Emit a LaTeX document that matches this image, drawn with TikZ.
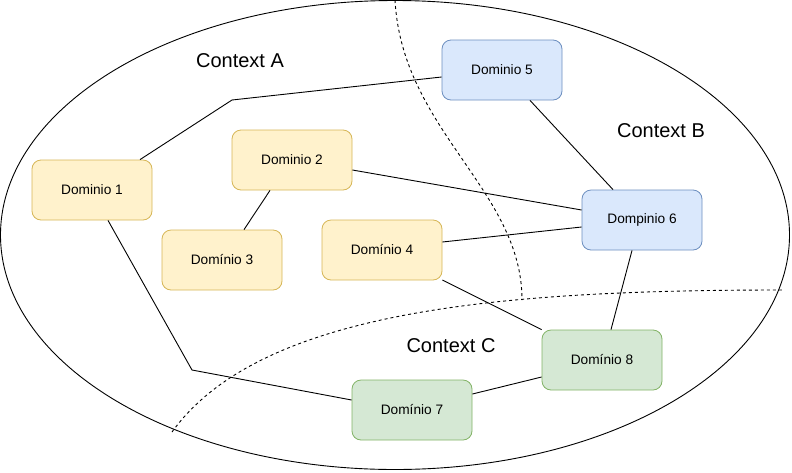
\documentclass[tikz,border=0pt]{standalone}
\usepackage{fontspec}
\setmainfont{Liberation Sans}
\usepackage{xcolor}
\usetikzlibrary{arrows.meta}
\definecolor{yellowfill}{RGB}{255,242,204}
\definecolor{yellowline}{RGB}{214,182,86}
\definecolor{bluefill}{RGB}{218,232,252}
\definecolor{blueline}{RGB}{108,142,191}
\definecolor{greenfill}{RGB}{213,232,212}
\definecolor{greenline}{RGB}{130,179,102}

\begin{document}
\begin{tikzpicture}[x=1pt,y=-1pt]
    \tikzstyle{dombox}=[rectangle,rounded corners=9pt,minimum width=120pt,minimum height=60pt,line width=0.8pt,font=\fontsize{13.7}{16}\selectfont,inner sep=0pt]
    \tikzstyle{ctxA}=[dombox,fill=yellowfill,draw=yellowline]
    \tikzstyle{ctxB}=[dombox,fill=bluefill,draw=blueline]
    \tikzstyle{ctxC}=[dombox,fill=greenfill,draw=greenline]
    \tikzstyle{link}=[-,line width=0.9pt]
    \tikzstyle{bounds}=[-,line width=0.9pt,dash pattern=on 3pt off 3pt]
    \tikzstyle{ctxlabel}=[font=\fontsize{20}{24}\selectfont]
    \useasboundingbox (0,0) rectangle (792,472);
    % Draw the outer ellipse
    \draw[line width=0.9pt] (395,235) ellipse [x radius=394.5, y radius=234.5];
    % Draw the context bounds
    \draw[bounds] (395,0) .. controls (402,130) and (522,190) .. (522,300);
    \draw[bounds] (172,432) .. controls (260,310) and (500,290) .. (782,290);
    % Draw the domains
    \node[ctxA] (1) at (92,190) {Dominio 1};
    \node[ctxA] (2) at (292,160) {Dominio 2};
    \node[ctxA] (3) at (222,260) {Domínio 3};
    \node[ctxA] (4) at (382,250) {Domínio 4};
    \node[ctxB] (5) at (502,70) {Dominio 5};
    \node[ctxB] (6) at (642,220) {Dompinio 6};
    \node[ctxC] (7) at (412,410) {Domínio 7};
    \node[ctxC] (8) at (602,360) {Domínio 8};
    \coordinate (b15) at (232,100);
    \coordinate (b17) at (192,370);
    % Draw the links
    \draw[link] (1.north -| 140,0) -- (b15) -- (5.west |- 0,77);
    \draw[link] (1.south -| 108,0) -- (b17) -- (7.west |- 0,400);
    \draw[link] (2.east |- 0,170) -- (6.west |- 0,210);
    \draw[link] (2.south -| 270,0) -- (3.north -| 244,0);
    \draw[link] (4.east |- 0,242) -- (6.west |- 0,227);
    \draw[link] (4.east |- 0,280) -- (8.north west);
    \draw[link] (5.south -| 530,0) -- (6.north -| 613,0);
    \draw[link] (6.south -| 632,0) -- (8.north -| 611,0);
    \draw[link] (7.east |- 0,394) -- (8.west |- 0,377);
    % Draw the context labels
    \node[ctxlabel] (ca) at (240,61) {Context A};
    \node[ctxlabel] (cb) at (661,131) {Context B};
    \node[ctxlabel] (cc) at (451,346) {Context C};
\end{tikzpicture}
\end{document}
